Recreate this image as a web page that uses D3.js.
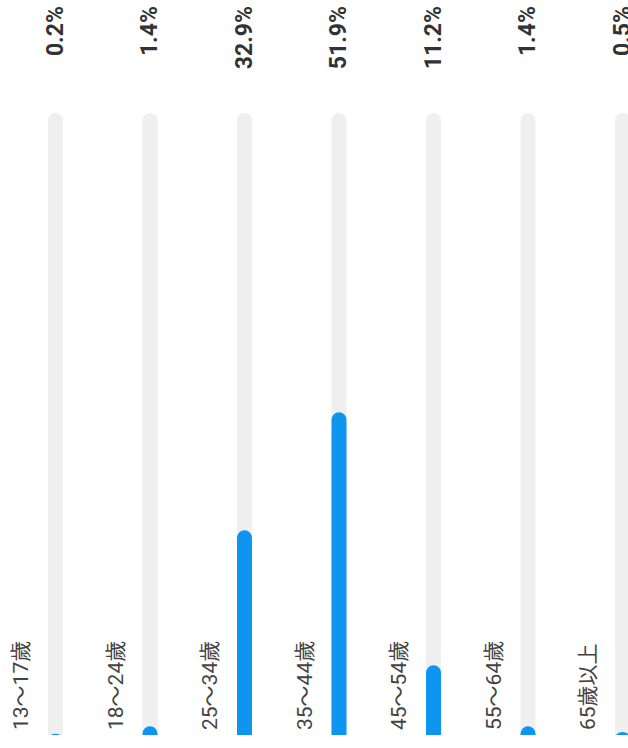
<!DOCTYPE html>
<html>
<head>
<meta charset="utf-8">
<script src="https://cdn.jsdelivr.net/npm/d3@7"></script>
<style>
  body { margin: 0; background: #fff; }
  svg { display: block; }
</style>
</head>
<body>
<div id="chart"></div>
<script>
// age groups and share of users (%)
let categories = ["13～17歲", "18～24歲", "25～34歲", "35～44歲", "45～54歲", "55～64歲", "65歲以上"];
let values = [0.2, 1.4, 32.9, 51.9, 11.2, 1.4, 0.5];
let valueLabels = ["0.2%", "1.4%", "32.9%", "51.9%", "11.2%", "1.4%", "0.5%"];

function drawChart() {
	let width = 628, height = 748;
	let trackTop = 113, trackBottom = 735;
	let barW = 15;

	let svg = d3.select("#chart")
		.append("svg")
		.attr("width", width)
		.attr("height", height);

	// columns, the picture is cut on the right side
	let xScale = d3.scaleBand()
		.domain(categories)
		.range([8.25, 8.25 + 94.5 * categories.length])
		.paddingInner(0);

	let yScale = d3.scaleLinear().domain([0, 100]).range([trackBottom, trackTop]);

	// flat bottom for the tracks (clip is in the column's own coords)
	svg.append("defs").append("clipPath")
		.attr("id", "cut")
		.append("rect")
		.attr("x", -50).attr("y", 0)
		.attr("width", 100).attr("height", trackBottom);

	let data = categories.map(function (c, i) {
		return { cat: c, value: values[i], label: valueLabels[i] };
	});

	let col = svg.selectAll(".col")
		.data(data)
		.enter().append("g")
		.attr("class", "col")
		.attr("transform", function (d) { return "translate(" + (xScale(d.cat) + xScale.bandwidth() / 2) + ",0)"; });

	let bars = col.append("g").attr("clip-path", "url(#cut)");

	// grey track
	bars.append("rect")
		.attr("x", -barW / 2)
		.attr("y", yScale(100))
		.attr("width", barW)
		.attr("height", yScale(0) - yScale(100) + 10)
		.attr("rx", barW / 2)
		.attr("fill", "#efefef");

	// blue value bar
	bars.append("rect")
		.attr("x", -barW / 2)
		.attr("y", function (d) { return yScale(d.value); })
		.attr("width", barW)
		.attr("height", function (d) { return yScale(0) - yScale(d.value) + 10; })
		.attr("rx", barW / 2)
		.attr("fill", "#0d95f0");

	// percentage on top
	col.append("text")
		.attr("transform", "translate(-1,6) rotate(-90)")
		.attr("text-anchor", "end")
		.attr("dy", "0.36em")
		.style("font-family", "Roboto, 'Noto Sans CJK TC', sans-serif")
		.style("font-size", "23px")
		.style("font-weight", "bold")
		.style("fill", "#333")
		.text(function (d) { return d.label; });

	// age group label, left of the track
	col.append("text")
		.attr("transform", "translate(-35,730) rotate(-90)")
		.attr("text-anchor", "start")
		.attr("dy", "0.36em")
		.style("font-family", "Roboto, 'Noto Sans CJK TC', sans-serif")
		.style("font-size", "21px")
		.style("fill", "#444")
		.text(function (d) { return d.cat; });
}

drawChart()
</script>
</body>
</html>
